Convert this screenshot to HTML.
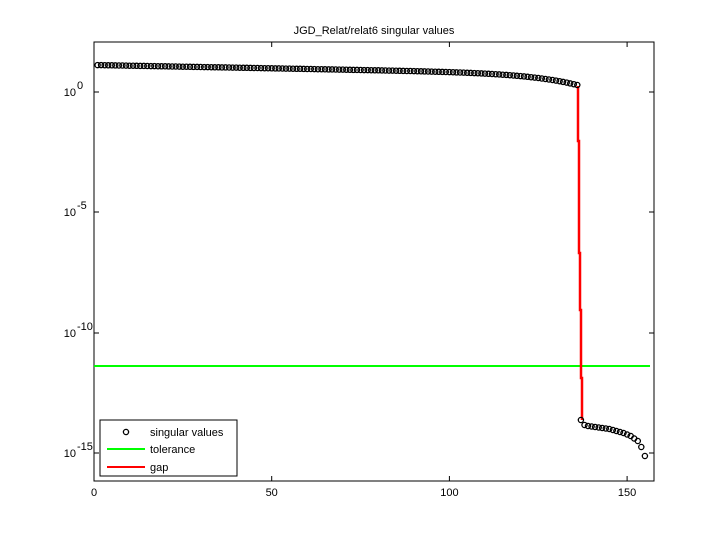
<!DOCTYPE html>
<html><head><meta charset="utf-8"><style>body{margin:0;background:#fff}svg{display:block}text{font-family:"Liberation Sans",sans-serif;font-size:11px}</style></head>
<body>
<svg id="s" width="720" height="540" xmlns="http://www.w3.org/2000/svg">
<rect width="720" height="540" fill="#fff"/>
<rect x="94" y="42" width="560" height="439" fill="#fff" stroke="#000" stroke-width="1"/>
<text x="374" y="34" text-anchor="middle">JGD_Relat/relat6 singular values</text>
<g stroke="#000">
<line x1="94" y1="481" x2="94" y2="476"/><line x1="271.7" y1="481" x2="271.7" y2="476"/><line x1="449.4" y1="481" x2="449.4" y2="476"/><line x1="627.1" y1="481" x2="627.1" y2="476"/>
<line x1="94" y1="42" x2="94" y2="47"/><line x1="271.7" y1="42" x2="271.7" y2="47"/><line x1="449.4" y1="42" x2="449.4" y2="47"/><line x1="627.1" y1="42" x2="627.1" y2="47"/>
<line x1="94" y1="92" x2="99" y2="92"/><line x1="94" y1="212" x2="99" y2="212"/><line x1="94" y1="333" x2="99" y2="333"/><line x1="94" y1="453" x2="99" y2="453"/>
<line x1="654" y1="92" x2="649" y2="92"/><line x1="654" y1="212" x2="649" y2="212"/><line x1="654" y1="333" x2="649" y2="333"/><line x1="654" y1="453" x2="649" y2="453"/>
</g>
<g text-anchor="middle"><text x="94" y="496">0</text><text x="271.7" y="496">50</text><text x="449.4" y="496">100</text><text x="627.1" y="496">150</text></g>
<g text-anchor="end"><text x="76" y="96">10</text><text x="76" y="216">10</text><text x="76" y="337">10</text><text x="76" y="457">10</text></g>
<g style="font-size:8px"><text x="77" y="89">0</text><text x="77" y="209">-5</text><text x="77" y="330">-10</text><text x="77" y="450">-15</text></g>
<line x1="94" y1="366" x2="650" y2="366" stroke="#00ff00" stroke-width="2"/>
<polyline fill="none" stroke="#f00" stroke-width="2.5" points="578,86 578,141 579,141 579,253 580,253 580,310 581,310 581,378 582,378 582,420"/>
<g id="pts" fill="none" stroke="#000" stroke-width="1.3"></g>
<rect x="100" y="420" width="137" height="56" fill="#fff" stroke="#000"/>
<circle cx="126" cy="432" r="2.6" fill="none" stroke="#000" stroke-width="1.3"/>
<line x1="107" y1="449" x2="145" y2="449" stroke="#00ff00" stroke-width="2"/>
<line x1="107" y1="467" x2="145" y2="467" stroke="#f00" stroke-width="2"/>
<text x="150" y="436">singular values</text><text x="150" y="453">tolerance</text><text x="150" y="471">gap</text>
</svg>
<script>
var g=document.getElementById('pts'),h='';
function X(i){return 94+i*3.554;}
for(var i=1;i<=136;i++){var t=i/136;var y=65+9*t+11*Math.pow(t,10);h+='<circle cx="'+X(i).toFixed(1)+'" cy="'+y.toFixed(1)+'" r="2.6"/>';}
var low=[420,425,426,426.5,427,427.5,428,428.5,429,430,431,432,433,434.5,436,438.5,441,447,456];
for(var j=0;j<low.length;j++){h+='<circle cx="'+X(137+j).toFixed(1)+'" cy="'+low[j]+'" r="2.6"/>';}
g.innerHTML=h;
</script>
</body></html>
